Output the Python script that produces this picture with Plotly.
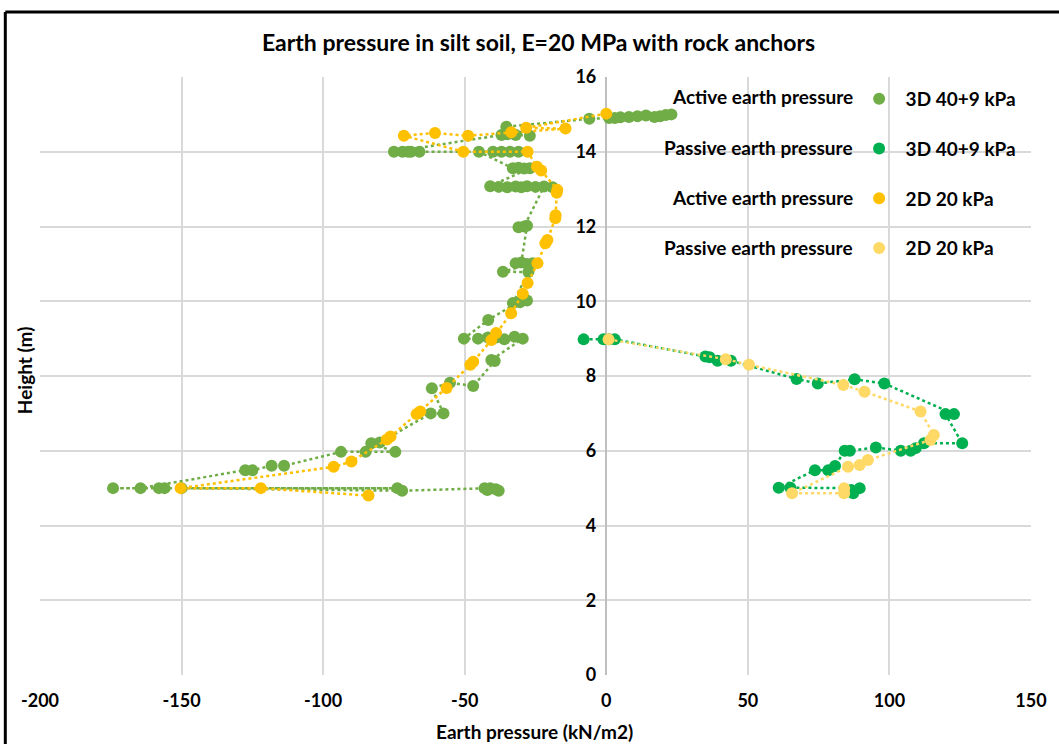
import plotly.graph_objects as go

# ---------------- data ----------------
# Active earth pressure, 3D 40+9 kPa
a3_x = [23, 21, 19, 17, 14, 11, 8, 5, 3, 1, -6,
        -35.3, -27, -32, -35, -37,
        -75, -72, -69, -66, -40, -37, -34, -31, -70, -45,
        -33, -31, -29, -27,
        -41, -38, -35, -32, -30, -28, -25, -19, -22,
        -29, -31, -28,
        -30, -32, -28, -26, -36.5, -27.5,
        -33, -30.5, -28, -29,
        -41.7,
        -50.3, -45.3, -41.8, -38.9, -36, -32.4, -29.5,
        -40.6, -39.4,
        -47, -55.2, -61.6,
        -57.5, -62,
        -80, -83, -74.5, -85, -93.7,
        -113.8, -118.2, -125, -127.5,
        -164.5, -174.2, -158, -156, -73.8, -150, -72.1, -43, -41, -39, -38, -42]
a3_y = [15.0, 14.98, 14.95, 14.93, 14.97, 14.95, 14.93, 14.92, 14.9, 14.9, 14.88,
        14.67, 14.43, 14.45, 14.47, 14.45,
        14.0, 14.0, 14.0, 14.0, 14.0, 14.0, 14.0, 14.0, 14.0, 14.0,
        13.56, 13.57, 13.55, 13.56,
        13.08, 13.06, 13.05, 13.07, 13.05, 13.08, 13.06, 13.05, 13.07,
        12.0, 11.98, 12.02,
        11.04, 11.02, 11.0, 11.02, 10.79, 10.78,
        9.95, 9.97, 10.02, 10.07,
        9.5,
        9.0, 9.0, 9.03, 9.03, 8.98, 9.05, 9.0,
        8.43, 8.4,
        7.73, 7.82, 7.67,
        7.0, 7.0,
        6.22, 6.2, 5.97, 5.97, 5.97,
        5.6, 5.6, 5.48, 5.48,
        5.0, 5.0, 5.0, 5.0, 5.0, 5.0, 4.93, 5.0, 5.0, 4.97, 4.93, 4.95]

# Passive earth pressure, 3D 40+9 kPa
p3_x = [-8, -1, 1, 3, 35, 36.5, 39.3, 44,
        67.2, 74.7, 87.7, 98.2, 122.8, 119.8,
        125.7, 112.2, 109.3, 107.5, 104, 95.2, 86, 84.2,
        80.8, 78.4, 73.7, 60.9, 65, 89.5, 87.2, 86.5]
p3_y = [8.98, 8.98, 8.98, 8.98, 8.52, 8.5, 8.41, 8.41,
        7.92, 7.8, 7.91, 7.8, 6.98, 6.98,
        6.2, 6.2, 6.07, 6.0, 6.0, 6.09, 6.0, 6.0,
        5.59, 5.48, 5.48, 5.01, 5.01, 5.0, 4.86, 4.95]

# Active earth pressure, 2D 20 kPa
a2_x = [0, -28.3, -14.4, -33.6, -48.8, -60.5, -71.5, -50.5, -27.8,
        -24.5, -23, -17.3, -17.5, -17.9, -18, -20.8, -21.5, -24.3,
        -27.8, -29.5, -33.6, -38.9, -40.6, -47, -48, -56.4, -65.7,
        -67, -76.2, -77.5, -90, -96.3, -150.3, -122, -84]
a2_y = [15.02, 14.64, 14.62, 14.52, 14.43, 14.5, 14.43, 14.0, 14.0,
        13.6, 13.5, 12.98, 12.9, 12.3, 12.22, 11.64, 11.55, 11.02,
        10.49, 10.2, 9.68, 9.15, 8.96, 8.38, 8.3, 7.68, 7.05,
        6.98, 6.38, 6.3, 5.71, 5.57, 5.0, 5.0, 4.8]

# Passive earth pressure, 2D 20 kPa
p2_x = [0.8, 42.2, 50.4, 83.7, 91.2, 111, 115.7, 114.5,
        92.4, 89.5, 85.4, 65.6, 84, 84]
p2_y = [8.98, 8.45, 8.3, 7.76, 7.58, 7.05, 6.42, 6.29,
        5.75, 5.62, 5.57, 4.86, 4.86, 5.0]

series_left = ["Active earth pressure", "Passive earth pressure",
               "Active earth pressure", "Passive earth pressure"]
series_right = ["3D 40+9 kPa", "3D 40+9 kPa", "2D 20 kPa", "2D 20 kPa"]
colors = ["#70AD47", "#00B050", "#FFC000", "#FFD966"]

x_ticks = [-200, -150, -100, -50, 0, 50, 100, 150]
x_ticktext = ["-200", "-150", "-100", "-50", "0", "50", "100", "150"]
y_ticks = [0, 2, 4, 6, 8, 10, 12, 14, 16]

FONT = "Lato"

fig = go.Figure()
data = [(a3_x, a3_y), (p3_x, p3_y), (a2_x, a2_y), (p2_x, p2_y)]
for i, (xs, ys) in enumerate(data):
    fig.add_trace(go.Scatter(
        x=xs, y=ys, mode="lines", showlegend=False, hoverinfo="skip",
        line=dict(color=colors[i], width=2.5, dash="dot")))
    fig.add_trace(go.Scatter(
        x=xs, y=ys, mode="markers", name=series_right[i],
        legendgroup=f"g{i}",
        marker=dict(color=colors[i], size=12, line=dict(width=0))))

W0, W1, H0, H1 = 40, 1040, 77, 675  # plot area in pixels


def px2paper_x(px):
    return (px - W0) / (W1 - W0)


def px2paper_y(py):
    return (H1 - py) / (H1 - H0)


annotations = []
row_y = [97, 147, 197, 247]
for i, t in enumerate(series_left):
    annotations.append(dict(
        text=t, xref="paper", yref="paper", x=px2paper_x(862), y=px2paper_y(row_y[i]),
        xanchor="right", yanchor="middle", showarrow=False,
        font=dict(family=FONT, size=19, color="#000000", weight="bold")))
annotations.append(dict(
    text="Height (m)", xref="paper", yref="paper", x=px2paper_x(24), y=px2paper_y(370),
    textangle=-90, xanchor="center", yanchor="middle", showarrow=False,
    font=dict(family=FONT, size=19, color="#000000", weight="bold")))
annotations.append(dict(
    text="Earth pressure (kN/m2)", xref="paper", yref="paper", x=px2paper_x(539),
    y=px2paper_y(731), xanchor="center", yanchor="middle", showarrow=False,
    font=dict(family=FONT, size=19, color="#000000", weight="bold")))

shapes = [
    dict(type="line", xref="paper", yref="paper", x0=px2paper_x(5), x1=px2paper_x(1070),
         y0=px2paper_y(12), y1=px2paper_y(12), line=dict(color="black", width=3)),
    dict(type="line", xref="paper", yref="paper", x0=px2paper_x(5), x1=px2paper_x(5),
         y0=px2paper_y(12), y1=px2paper_y(760), line=dict(color="black", width=3)),
]

fig.update_layout(
    width=1059, height=744,
    margin=dict(l=W0, r=1059 - W1, t=H0, b=744 - H1),
    paper_bgcolor="white", plot_bgcolor="white",
    title=dict(text="Earth pressure in silt soil, E=20 MPa with rock anchors",
               xref="paper", x=px2paper_x(543), xanchor="center",
               yref="container", y=1 - 43 / 744, yanchor="middle",
               font=dict(family=FONT, size=23, color="#000000", weight="bold")),
    xaxis=dict(range=[-200, 150], tickvals=x_ticks, ticktext=x_ticktext, showgrid=True,
               gridcolor="#D9D9D9", gridwidth=1.5,
               zeroline=True, zerolinecolor="#BFBFBF", zerolinewidth=1.5,
               showline=False, ticks="", ticklabelstandoff=13,
               tickfont=dict(family=FONT, size=18, color="#000000", weight="bold")),
    yaxis=dict(range=[0, 16], tickvals=y_ticks, showgrid=True,
               gridcolor="#D9D9D9", gridwidth=1.5, zeroline=False,
               anchor="free", position=200 / 350, showline=False, ticks="",
               ticklabelstandoff=10,
               tickfont=dict(family=FONT, size=18, color="#000000", weight="bold")),
    legend=dict(x=px2paper_x(860), y=px2paper_y(80), xanchor="left", yanchor="top",
                bgcolor="rgba(0,0,0,0)", tracegroupgap=22, itemwidth=43,
                font=dict(family=FONT, size=19, color="#000000", weight="bold")),
    annotations=annotations, shapes=shapes,
)

fig.write_html("out.html")
